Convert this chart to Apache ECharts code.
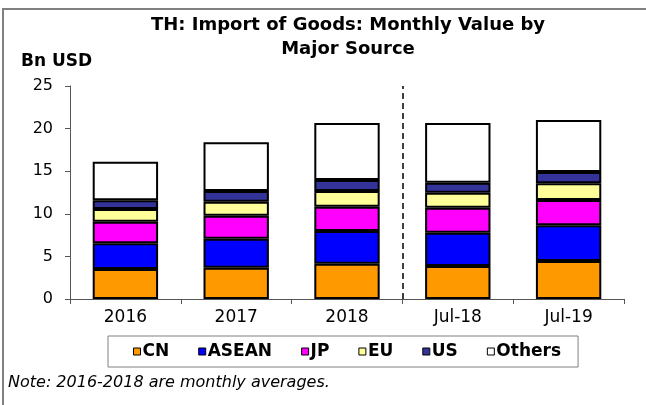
<!DOCTYPE html>
<html>
<head>
<meta charset="utf-8">
<script src="https://cdn.jsdelivr.net/npm/echarts@6/dist/echarts.min.js"></script>
<style>
  html, body { margin: 0; padding: 0; background: #fff; }
  #chart { width: 646px; height: 405px; }
</style>
</head>
<body>
<div id="chart"></div>
<script>
// TH import of goods by source, Bn USD
var categories = ['2016', '2017', '2018', 'Jul-18', 'Jul-19'];
var cn     = [3.52, 3.68, 4.15, 3.87, 4.46];
var asean  = [3.02, 3.40, 3.83, 3.91, 4.19];
var jp     = [2.53, 2.70, 2.86, 2.94, 2.97];
var eu     = [1.49, 1.64, 1.84, 1.76, 1.96];
var us     = [1.02, 1.26, 1.29, 1.17, 1.32];
var others = [4.53, 5.71, 6.69, 7.01, 6.10];
var yTicks = [0, 5, 10, 15, 20, 25];

var font = 'DejaVu Sans, Verdana, sans-serif';

function bar(name, data, color) {
    return {
        name: name,
        type: 'bar',
        stack: 'total',
        barWidth: '59%',
        data: data,
        itemStyle: { color: color, borderColor: '#000', borderWidth: 2 },
        emphasis: { disabled: true }
    };
}

var dom = document.getElementById('chart');
var myChart = echarts.init(dom);

var option = {
    animation: false,
    textStyle: { fontFamily: font },
    title: {
        text: 'TH: Import of Goods: Monthly Value by\nMajor Source',
        left: 343,
        textAlign: 'center',
        top: 8,
        textStyle: { fontSize: 18, fontWeight: 'bold', color: '#000', lineHeight: 24, fontFamily: font }
    },
    grid: { left: 70, right: 22, top: 86, bottom: 106 },
    legend: {
        left: 108,
        top: 336,
        padding: [7, 17, 7, 25],
        borderColor: '#808080',
        borderWidth: 1,
        itemWidth: 7,
        itemHeight: 7,
        itemGap: 29,
        icon: 'rect',
        itemStyle: { borderWidth: 1, borderColor: '#000' },
        textStyle: { fontSize: 17, fontWeight: 'bold', color: '#000', padding: [0, 0, 0, -3], fontFamily: font },
        data: ['CN', 'ASEAN', 'JP', 'EU', 'US', 'Others']
    },
    xAxis: [{
        type: 'category',
        data: categories,
        axisLine: { lineStyle: { color: '#555', width: 1 } },
        axisTick: { show: true, length: 5, lineStyle: { color: '#555' } },
        axisLabel: { fontSize: 17, color: '#000', margin: 10 }
    }, {
        type: 'value',
        min: 0,
        max: 5,
        show: false
    }],
    yAxis: {
        type: 'value',
        min: yTicks[0],
        max: yTicks[yTicks.length - 1],
        interval: 5,
        axisLine: { show: true, lineStyle: { color: '#555', width: 1 } },
        axisTick: { show: true, length: 5, lineStyle: { color: '#555' } },
        axisLabel: { fontSize: 16, color: '#000', margin: 17 },
        splitLine: { show: false }
    },
    series: [
        bar('CN', cn, '#ff9900'),
        bar('ASEAN', asean, '#0000ff'),
        bar('JP', jp, '#ff00ff'),
        bar('EU', eu, '#ffff99'),
        bar('US', us, '#333399'),
        bar('Others', others, '#ffffff'),
        {
            // dashed separator between annual averages and monthly bars
            type: 'line',
            xAxisIndex: 1,
            data: [],
            silent: true,
            markLine: {
                symbol: 'none',
                silent: true,
                label: { show: false },
                lineStyle: { color: '#000', type: [6, 4], width: 1.5 },
                data: [{ xAxis: 3 }]
            }
        }
    ],
    graphic: [{
        type: 'rect',
        shape: { x: 3, y: 9, width: 700, height: 500 },
        style: { fill: 'none', stroke: '#808080', lineWidth: 2 },
        silent: true
    }, {
        type: 'text',
        left: 21,
        top: 53,
        style: { text: 'Bn USD', fontSize: 17, fontWeight: 'bold', fill: '#000', fontFamily: font }
    }, {
        type: 'text',
        left: 8,
        top: 375,
        style: { text: 'Note: 2016-2018 are monthly averages.', fontSize: 16, fontStyle: 'italic', fill: '#000', fontFamily: font }
    }]
};

if (option && typeof option === 'object') {
    myChart.setOption(option, true);
}
</script>
</body>
</html>
